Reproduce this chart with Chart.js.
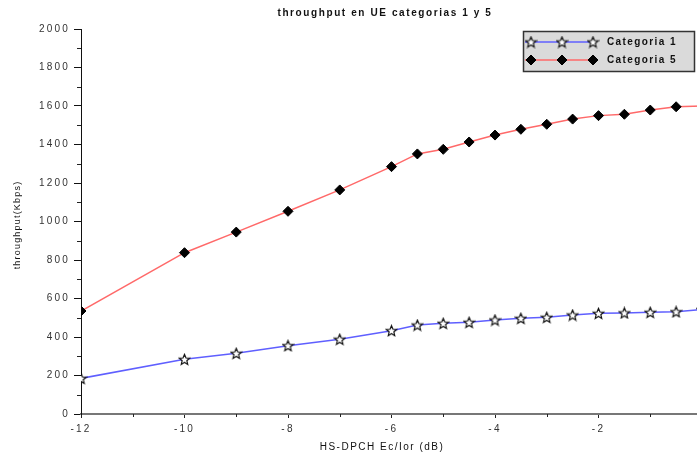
<!DOCTYPE html>
<html>
<head>
<meta charset="utf-8">
<script src="https://cdn.jsdelivr.net/npm/chart.js@4.4.1/dist/chart.umd.min.js"></script>
<style>
  html, body { margin: 0; padding: 0; background: #fff; overflow: hidden; }
  #wrap { width: 720px; height: 455px; }
</style>
</head>
<body>
<div id="wrap"><canvas id="c" width="720" height="455"></canvas></div>
<script>
// HS-DPCH Ec/Ior sweep (dB) and measured throughput (Kbps) per UE category
const ecIor = [-12, -10, -9, -8, -7, -6, -5.5, -5, -4.5, -4, -3.5, -3, -2.5, -2, -1.5, -1, -0.5, 0];
const categoria1 = [185, 284, 315, 355, 388, 433, 462, 471, 476, 488, 497, 502, 514, 523, 525, 528, 531, 543];
const categoria5 = [535, 838, 945, 1053, 1164, 1285, 1351, 1375, 1413, 1449, 1479, 1505, 1532, 1550, 1557, 1579, 1596, 1600];
const seriesNames = ['Categoria 1', 'Categoria 5'];

const xTickValues = [-12, -10, -8, -6, -4, -2, 0];
const xMinorTicks = [-11, -9, -7, -5, -3, -1];
const yTickValues = [0, 200, 400, 600, 800, 1000, 1200, 1400, 1600, 1800, 2000];
const yMinorTicks = [100, 300, 500, 700, 900, 1100, 1300, 1500, 1700, 1900];

const chartTitle = 'throughput en UE categorias 1 y 5';
const xAxisTitle = 'HS-DPCH Ec/Ior (dB)';
const yAxisTitle = 'throughput(Kbps)';

const FONT = '"Liberation Sans", Arial, Helvetica, sans-serif';
const BLUE = 'rgb(95, 95, 255)';
const RED = 'rgb(255, 105, 105)';

// white five-pointed star with dark outline, used as point marker
function makeStar(size) {
  const c = document.createElement('canvas');
  c.width = c.height = size;
  const g = c.getContext('2d');
  const cx = size / 2, cy = size / 2 + 0.5, R = size / 2 - 1, r = R * 0.45;
  g.beginPath();
  for (let i = 0; i < 10; i++) {
    const a = -Math.PI / 2 + i * Math.PI / 5;
    const rad = i % 2 ? r : R;
    g.lineTo(cx + rad * Math.cos(a), cy + rad * Math.sin(a));
  }
  g.closePath();
  g.fillStyle = '#fff';
  g.fill();
  g.strokeStyle = '#111';
  g.lineWidth = 1.2;
  g.stroke();
  return c;
}
const starImg = makeStar(13);

const toPoints = ys => ecIor.map((x, i) => ({ x: x, y: ys[i] }));

const decorations = {
  id: 'decorations',
  afterDraw(chart) {
    const ctx = chart.ctx;
    const xs = chart.scales.x, ys = chart.scales.y;
    const area = chart.chartArea;
    ctx.save();

    // minor ticks
    ctx.strokeStyle = '#222';
    ctx.lineWidth = 1;
    ctx.beginPath();
    yMinorTicks.forEach(v => {
      const py = Math.round(ys.getPixelForValue(v)) + 0.5;
      ctx.moveTo(area.left - 4, py);
      ctx.lineTo(area.left, py);
    });
    xMinorTicks.forEach(v => {
      const px = Math.round(xs.getPixelForValue(v)) + 0.5;
      ctx.moveTo(px, area.bottom);
      ctx.lineTo(px, area.bottom + 3);
    });
    ctx.stroke();

    // titles
    ctx.fillStyle = '#111';
    ctx.textBaseline = 'middle';
    ctx.textAlign = 'center';
    ctx.letterSpacing = '1.6px';
    ctx.font = 'bold 10px ' + FONT;
    ctx.fillText(chartTitle, 385, 13);
    ctx.font = '10px ' + FONT;
    ctx.letterSpacing = '1.5px';
    ctx.fillText(xAxisTitle, 382, 447);
    ctx.save();
    ctx.translate(18, 225);
    ctx.rotate(-Math.PI / 2);
    ctx.font = '9px ' + FONT;
    ctx.letterSpacing = '1.2px';
    ctx.fillText(yAxisTitle, 0, 0);
    ctx.restore();

    // legend box
    const lx = 523, ly = 31, lw = 171, lh = 40;
    ctx.fillStyle = '#dadada';
    ctx.fillRect(lx, ly, lw, lh);
    ctx.strokeStyle = '#333';
    ctx.lineWidth = 1.5;
    ctx.strokeRect(lx + 0.5, ly + 0.5, lw, lh);

    const rows = [
      { y: ly + 11, ds: chart.data.datasets[0] },
      { y: ly + 29, ds: chart.data.datasets[1] }
    ];
    rows.forEach(row => {
      ctx.strokeStyle = row.ds.borderColor;
      ctx.lineWidth = 1.5;
      ctx.beginPath();
      ctx.moveTo(lx + 2, row.y);
      ctx.lineTo(lx + 71, row.y);
      ctx.stroke();
      [lx + 8, lx + 39, lx + 70].forEach(mx => {
        ctx.strokeStyle = '#000';
        ctx.fillStyle = row.ds.pointBackgroundColor || '#fff';
        ctx.lineWidth = 1;
        Chart.helpers.drawPoint(ctx, {
          pointStyle: row.ds.pointStyle,
          radius: row.ds.pointRadius,
          borderWidth: 1
        }, mx, row.y);
      });
      ctx.fillStyle = '#111';
      ctx.textAlign = 'left';
      ctx.font = 'bold 10px ' + FONT;
      ctx.letterSpacing = '1.4px';
      ctx.fillText(row.ds.label, lx + 84, row.y + 0.5);
    });
    ctx.restore();
  }
};

const tickSpacing = {
  id: 'tickSpacing',
  beforeDraw(chart) { chart.ctx.letterSpacing = '2.2px'; }
};

new Chart(document.getElementById('c'), {
  type: 'line',
  data: {
    datasets: [
      {
        label: seriesNames[0],
        data: toPoints(categoria1),
        borderColor: BLUE,
        borderWidth: 1.5,
        pointStyle: starImg,
        pointRadius: 6,
        pointHoverRadius: 6,
        tension: 0
      },
      {
        label: seriesNames[1],
        data: toPoints(categoria5),
        borderColor: RED,
        borderWidth: 1.5,
        pointStyle: 'rectRot',
        pointRadius: 5,
        pointHoverRadius: 5,
        pointBackgroundColor: '#000',
        pointBorderColor: '#000',
        pointBorderWidth: 1,
        tension: 0
      }
    ]
  },
  options: {
    responsive: false,
    animation: false,
    devicePixelRatio: 1,
    layout: { padding: { top: 29, right: 18, bottom: 0, left: 0 } },
    plugins: {
      legend: { display: false },
      title: { display: false },
      tooltip: { enabled: false }
    },
    scales: {
      x: {
        type: 'linear',
        min: -12,
        max: 0,
        afterBuildTicks: s => { s.ticks = xTickValues.map(v => ({ value: v })); },
        afterFit: s => { s.height = 41; },
        ticks: {
          color: '#333',
          font: { family: FONT, size: 10 },
          padding: 5,
          maxRotation: 0,
          callback: v => String(v)
        },
        grid: { drawOnChartArea: false, drawTicks: true, tickLength: 4, tickColor: '#222' },
        border: { color: '#777', width: 2 }
      },
      y: {
        min: 0,
        max: 2000,
        afterBuildTicks: s => { s.ticks = yTickValues.map(v => ({ value: v })); },
        afterFit: s => { s.width = 81; },
        ticks: {
          color: '#333',
          font: { family: FONT, size: 10 },
          padding: 4,
          callback: v => String(v)
        },
        grid: { drawOnChartArea: false, drawTicks: true, tickLength: 7, tickColor: '#111' },
        border: { color: '#111', width: 1 }
      }
    }
  },
  plugins: [tickSpacing, decorations]
});
</script>
</body>
</html>
